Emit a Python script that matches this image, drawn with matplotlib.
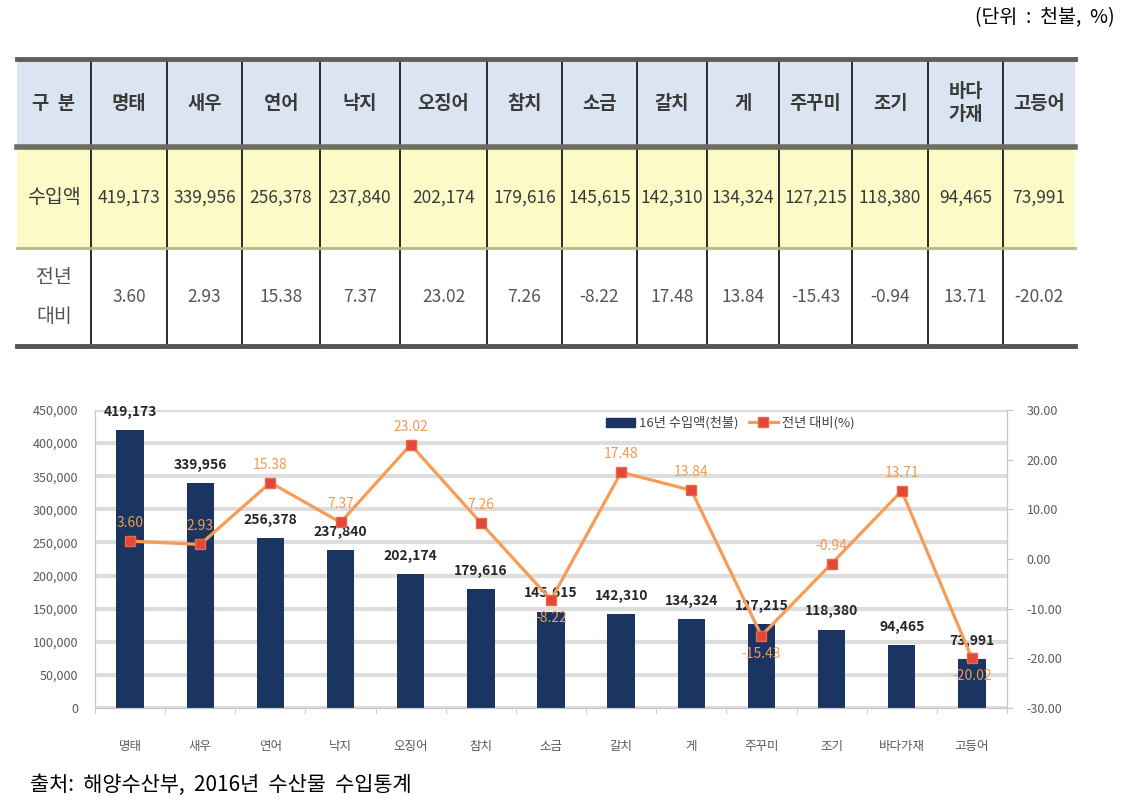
import numpy as np
import matplotlib
matplotlib.use('Agg')
import matplotlib.pyplot as plt
from matplotlib.patches import Rectangle, Patch
from matplotlib.lines import Line2D
from matplotlib.ticker import FuncFormatter

plt.rcParams['font.family'] = ['Noto Sans CJK KR', 'DejaVu Sans']

# data
items = ['명태', '새우', '연어', '낙지', '오징어', '참치', '소금', '갈치', '게',
         '주꾸미', '조기', '바다가재', '고등어']
table_heads = ['명태', '새우', '연어', '낙지', '오징어', '참치', '소금', '갈치', '게',
               '주꾸미', '조기', '바다\n가재', '고등어']
imports = [419173, 339956, 256378, 237840, 202174, 179616, 145615, 142310,
           134324, 127215, 118380, 94465, 73991]
yoy = [3.60, 2.93, 15.38, 7.37, 23.02, 7.26, -8.22, 17.48, 13.84, -15.43,
       -0.94, 13.71, -20.02]
below = ['소금', '주꾸미', '고등어']   # line labels drawn under the point

W, H = 1128, 809
fig = plt.figure(figsize=(W / 100, H / 100), dpi=100)

# background axes in pixel units, for the table and loose text
bg = fig.add_axes([0, 0, 1, 1])
bg.set_xlim(0, W)
bg.set_ylim(H, 0)
bg.axis('off')

bg.text(1115, 18, '(단위  :  천불,  %)', ha='right', va='center', fontsize=14)

# ---- table ----
col_x = [17, 91, 167, 242, 320, 400, 487, 562, 637, 707, 779, 852, 928, 1003, 1075]
row_y = [59, 147, 248, 346]
left, right = col_x[0], col_x[-1]

bg.add_patch(Rectangle((left, row_y[0]), right - left, row_y[1] - row_y[0],
                       color='#dbe5f1', lw=0))
bg.add_patch(Rectangle((left, row_y[1]), right - left, row_y[2] - row_y[1],
                       color='#fcfac6', lw=0))

for cx in col_x[1:-1]:
    bg.plot([cx, cx], [row_y[0], row_y[3]], color='#2b2b2b', lw=1.4)
bg.plot([left, right], [row_y[0], row_y[0]], color='#5f5f5f', lw=3.5)
bg.plot([left, right], [row_y[1], row_y[1]], color='#6e6e60', lw=4)
bg.plot([left, right], [row_y[2], row_y[2]], color='#b9b58e', lw=2)
bg.plot([left, right], [row_y[3], row_y[3]], color='#555555', lw=3.5)

centers = [(a + b) / 2 for a, b in zip(col_x[:-1], col_x[1:])]
y_head = (row_y[0] + row_y[1]) / 2
y_imp = (row_y[1] + row_y[2]) / 2
y_yoy = (row_y[2] + row_y[3]) / 2

bg.text(centers[0], y_head, '구  분', ha='center', va='center', fontsize=13.5,
        fontweight='bold', color='#3a3a3a')
bg.text(centers[0], y_imp, '수입액', ha='center', va='center', fontsize=14,
        color='#3a3a3a')
bg.text(centers[0], y_yoy, '전년\n대비', ha='center', va='center', fontsize=14,
        color='#555555', linespacing=2.1)

for c, h, v, p in zip(centers[1:], table_heads, imports, yoy):
    bg.text(c, y_head, h, ha='center', va='center', fontsize=13.5,
            fontweight='bold', color='#3a3a3a', linespacing=1.3)
    bg.text(c, y_imp, f'{v:,}', ha='center', va='center', fontsize=12.5,
            color='#3a3a3a')
    bg.text(c, y_yoy, f'{p:.2f}', ha='center', va='center', fontsize=12.5,
            color='#555555')

bg.text(30, 785, '출처:  해양수산부,  2016년  수산물  수입통계', ha='left',
        va='center', fontsize=15)

# ---- chart ----
navy = '#1b3563'
orange = '#f59d56'
red = '#e2473b'

ax = fig.add_axes([95 / W, 1 - 708 / H, 912 / W, 298 / H])
x = np.arange(len(items))
ax.bar(x, imports, width=0.39, color=navy, zorder=2)
ax.set_xlim(-0.5, len(items) - 0.5)
ax.set_ylim(0, 450000)
ax.set_yticks(np.arange(0, 450001, 50000))
ax.yaxis.set_major_formatter(FuncFormatter(lambda v, p: f'{int(v):,}'))
ax.grid(axis='y', color='#dddddd', lw=3)
ax.set_axisbelow(True)
ax.spines['top'].set_visible(False)
for sp in ['left', 'bottom', 'right']:
    ax.spines[sp].set_color('#c8c8c8')
ax.set_xticks(x)
ax.set_xticklabels(items)
ax.set_xticks(np.arange(-0.5, len(items), 1), minor=True)
ax.tick_params(axis='x', which='major', length=0, pad=23, labelsize=9,
               labelcolor='#595959')
ax.tick_params(axis='x', which='minor', length=4, color='#c8c8c8')
ax.tick_params(axis='y', length=0, pad=12, labelsize=9, labelcolor='#595959')

for xi, v in zip(x, imports):
    ax.annotate(f'{v:,}', (xi, v), xytext=(0, 8), textcoords='offset points',
                ha='center', va='bottom', fontsize=10, fontweight='bold',
                color='#262626')

ax2 = ax.twinx()
ax2.plot(x, yoy, color=orange, lw=2.3, marker='s', ms=7, mfc=red,
         mec='#ea6a3e', zorder=3)
ax2.set_ylim(-30, 30)
ax2.set_yticks(np.arange(-30, 31, 10))
ax2.yaxis.set_major_formatter(FuncFormatter(lambda v, p: f'{v:.2f}'))
ax2.tick_params(axis='y', length=4, color='#c8c8c8', pad=10, labelsize=9,
                labelcolor='#595959')
ax2.spines['top'].set_visible(False)
for sp in ['left', 'bottom', 'right']:
    ax2.spines[sp].set_color('#c8c8c8')

for xi, v, name in zip(x, yoy, items):
    dy = -13 if name in below else 13
    ax2.annotate(f'{v:.2f}', (xi, v), xytext=(0, dy), textcoords='offset points',
                 ha='center', va='center', fontsize=10, color='#f39a4e')

handles = [Patch(color=navy),
           Line2D([], [], color=orange, lw=2.3, marker='s', ms=7, mfc=red,
                  mec='#ea6a3e')]
ax2.legend(handles, ['16년 수입액(천불)', '전년 대비(%)'], loc='center left',
           bbox_to_anchor=(594 / W, 1 - 423 / H), bbox_transform=fig.transFigure,
           ncol=2, frameon=False, fontsize=9.5, handlelength=2.2,
           handletextpad=0.3, columnspacing=0.8, labelcolor='#404040')

fig.savefig('out.png', dpi=100)
